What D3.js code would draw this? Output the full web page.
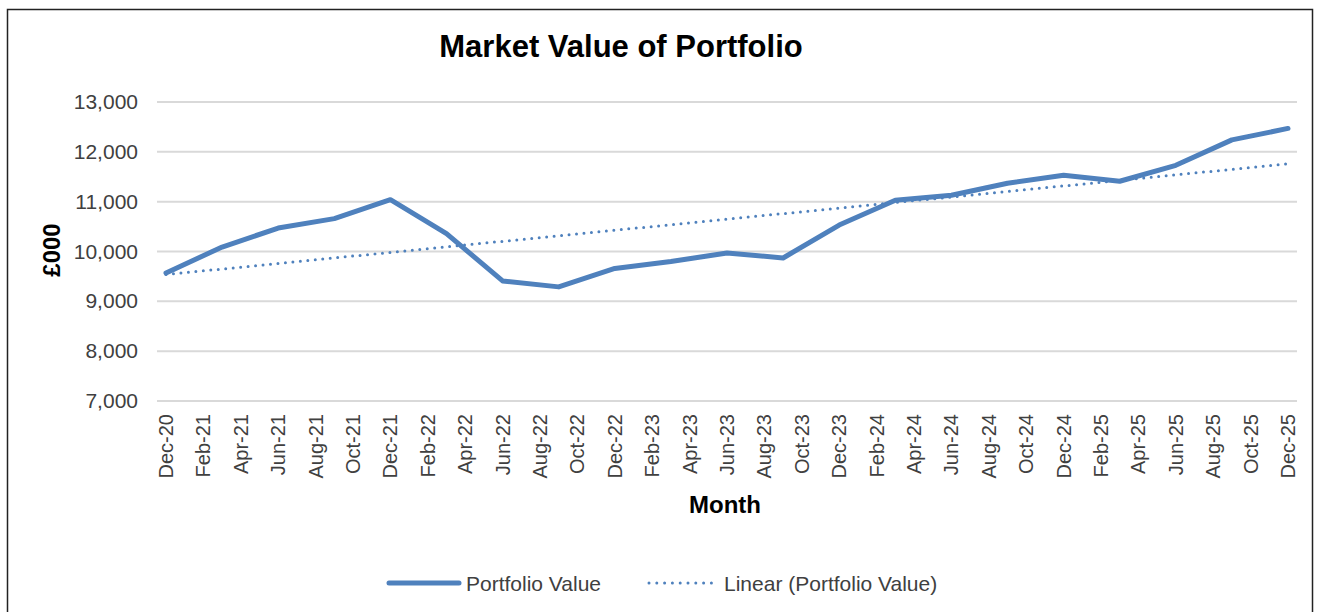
<!DOCTYPE html>
<html lang="en">
<head>
    <meta charset="utf-8">
    <title>Market Value of Portfolio</title>
    <style>
        body {
            margin: 0;
            background: #fff;
        }

        text {
            font-family: "Liberation Sans", Arial, sans-serif;
            fill: #000;
        }

        .grid line {
            stroke: #d9d9d9;
            stroke-width: 2;
        }

        .tick-y {
            font-size: 21px;
            fill: #404040;
        }

        .tick-x {
            font-size: 20px;
            fill: #404040;
        }

        .ttl {
            font-weight: bold;
        }
    </style>
    <script src="https://cdn.jsdelivr.net/npm/d3@7"></script>
</head>
<body>
<svg width="1319" height="612"></svg>
<script>
    // quarterly portfolio value (£000)
    const quarters = ["Dec-20", "Mar-21", "Jun-21", "Sep-21", "Dec-21", "Mar-22", "Jun-22", "Sep-22", "Dec-22",
        "Mar-23", "Jun-23", "Sep-23", "Dec-23", "Mar-24", "Jun-24", "Sep-24", "Dec-24", "Mar-25", "Jun-25",
        "Sep-25", "Dec-25"];
    const portfolioValue = [9570, 10090, 10470, 10660, 11040, 10360, 9410, 9290, 9660,
        9800, 9970, 9870, 10530, 11030, 11130, 11370, 11530, 11410, 11730,
        12240, 12470];
    // x axis tick labels (every second month)
    const monthTicks = ["Dec-20", "Feb-21", "Apr-21", "Jun-21", "Aug-21", "Oct-21", "Dec-21", "Feb-22", "Apr-22",
        "Jun-22", "Aug-22", "Oct-22", "Dec-22", "Feb-23", "Apr-23", "Jun-23", "Aug-23", "Oct-23", "Dec-23",
        "Feb-24", "Apr-24", "Jun-24", "Aug-24", "Oct-24", "Dec-24", "Feb-25", "Apr-25", "Jun-25", "Aug-25",
        "Oct-25", "Dec-25"];
    const yTicks = [7000, 8000, 9000, 10000, 11000, 12000, 13000];

    const parse = d3.timeParse("%b-%y");
    const start = parse(monthTicks[0]);
    // month offset from Dec-20, so every month gets the same width like excel's date axis
    const monthIdx = s => {
        const d = parse(s);
        return (d.getFullYear() - start.getFullYear()) * 12 + d.getMonth() - start.getMonth();
    };

    const data = quarters.map((q, i) => ({m: monthIdx(q), v: portfolioValue[i]}));

    const svg = d3.select("svg");
    const plotL = 157, plotR = 1297;

    const x = d3.scaleLinear().domain([0, 60]).range([166, 1288]);
    const y = d3.scaleLinear().domain([7000, 13000]).range([401, 102]);

    // outer frame
    svg.append("rect")
        .attr("x", 7.5).attr("y", 9.5)
        .attr("width", 1305).attr("height", 620)
        .attr("fill", "none").attr("stroke", "#222").attr("stroke-width", 1.5);

    svg.append("text")
        .attr("class", "ttl")
        .attr("x", 621).attr("y", 57)
        .attr("text-anchor", "middle")
        .style("font-size", "31px")
        .text("Market Value of Portfolio");

    // gridlines
    svg.append("g").attr("class", "grid")
        .selectAll("line")
        .data(yTicks)
        .join("line")
        .attr("x1", plotL).attr("x2", plotR)
        .attr("y1", d => y(d)).attr("y2", d => y(d));

    // y axis labels
    svg.append("g")
        .selectAll("text")
        .data(yTicks)
        .join("text")
        .attr("class", "tick-y")
        .attr("x", 138)
        .attr("y", d => y(d) + 7)
        .attr("text-anchor", "end")
        .text(d3.format(","));

    // x axis labels, rotated
    svg.append("g")
        .selectAll("text")
        .data(monthTicks)
        .join("text")
        .attr("class", "tick-x")
        .attr("transform", d => `translate(${x(monthIdx(d)) + 7},414) rotate(-90)`)
        .attr("text-anchor", "end")
        .text(d => d);

    svg.append("text")
        .attr("class", "ttl")
        .attr("x", 725).attr("y", 513)
        .attr("text-anchor", "middle")
        .style("font-size", "24px")
        .text("Month");

    svg.append("text")
        .attr("class", "ttl")
        .attr("transform", "translate(60,250) rotate(-90)")
        .attr("text-anchor", "middle")
        .style("font-size", "24px")
        .text("£000");

    // linear trendline (least squares over the series)
    const mx = d3.mean(data, d => d.m), my = d3.mean(data, d => d.v);
    const slope = d3.sum(data, d => (d.m - mx) * (d.v - my)) / d3.sum(data, d => (d.m - mx) ** 2);
    const fit = m => my + slope * (m - mx);
    const m0 = data[0].m, m1 = data[data.length - 1].m;

    svg.append("line")
        .attr("x1", x(m0)).attr("y1", y(fit(m0)))
        .attr("x2", x(m1)).attr("y2", y(fit(m1)))
        .attr("stroke", "#4f81bd")
        .attr("stroke-width", 3)
        .attr("stroke-linecap", "round")
        .attr("stroke-dasharray", "0 7.5");

    const line = d3.line().x(d => x(d.m)).y(d => y(d.v));
    svg.append("path")
        .datum(data)
        .attr("d", line)
        .attr("fill", "none")
        .attr("stroke", "#4f81bd")
        .attr("stroke-width", 5)
        .attr("stroke-linejoin", "round")
        .attr("stroke-linecap", "round");

    // legend
    const lg = svg.append("g");
    lg.append("line")
        .attr("x1", 389).attr("x2", 459).attr("y1", 583).attr("y2", 583)
        .attr("stroke", "#4f81bd").attr("stroke-width", 5).attr("stroke-linecap", "round");
    lg.append("text")
        .attr("x", 466).attr("y", 591)
        .style("font-size", "21px").style("fill", "#404040")
        .text("Portfolio Value");
    lg.append("line")
        .attr("x1", 649).attr("x2", 712).attr("y1", 583).attr("y2", 583)
        .attr("stroke", "#4f81bd").attr("stroke-width", 3)
        .attr("stroke-linecap", "round").attr("stroke-dasharray", "0 7.8");
    lg.append("text")
        .attr("x", 724).attr("y", 591)
        .style("font-size", "21px").style("fill", "#404040")
        .text("Linear (Portfolio Value)");
</script>
</body>
</html>
